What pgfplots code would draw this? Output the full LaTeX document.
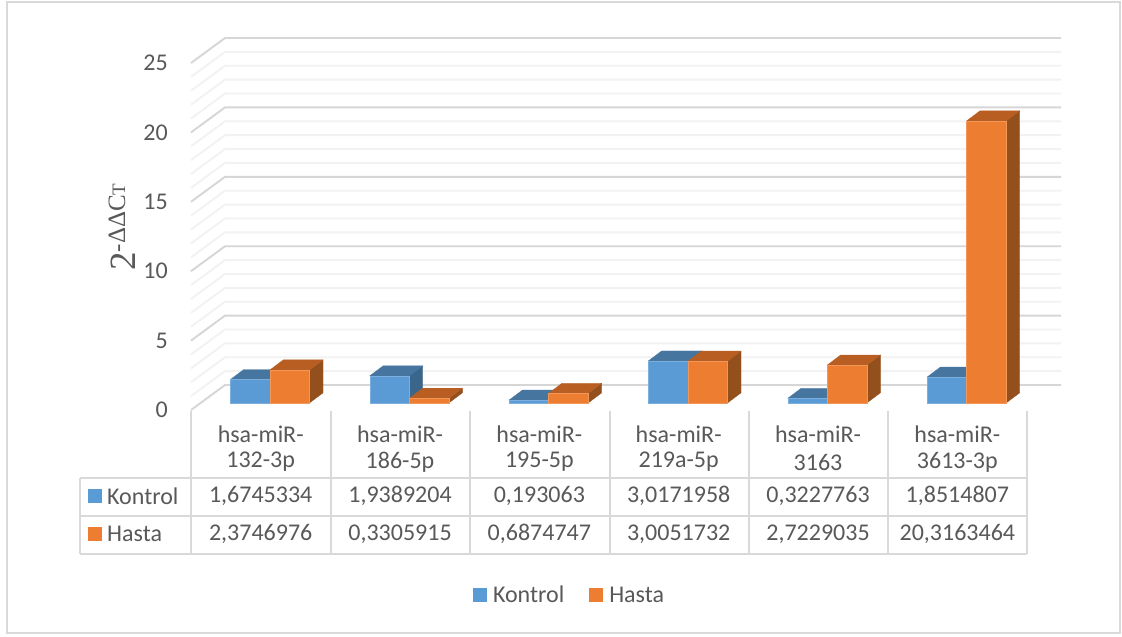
\documentclass[border=0pt]{standalone}
\usepackage{fontspec}
\setmainfont{Carlito}
\newfontfamily\titleserif{Liberation Serif}
\usepackage{pgfplots}
\usepackage{pgfplotstable}
\pgfplotsset{compat=1.18}

\definecolor{txt}{HTML}{595959}
\definecolor{rule}{HTML}{D9D9D9}
\definecolor{gridmajor}{HTML}{D6D6D6}
\definecolor{gridminor}{HTML}{F2F2F2}
\definecolor{kfront}{HTML}{5B9BD5}
\definecolor{ktop}{HTML}{4675A0}
\definecolor{kside}{HTML}{3B668C}
\definecolor{hfront}{HTML}{ED7D31}
\definecolor{htop}{HTML}{B85E22}
\definecolor{hside}{HTML}{94501C}

\pgfplotstableread{
pos kontrol hasta
0 1.6745334 2.3746976
1 1.9389204 0.3305915
2 0.193063 0.6874747
3 3.0171958 3.0051732
4 0.3227763 2.7229035
5 1.8514807 20.3163464
}\mirdata

% one gridline: across the side wall, then along the back wall
\newcommand{\wallline}[2]{%
  \pgfmathsetmacro{\yb}{#1+1.8}%
  \edef\temp{\noexpand\addplot[forget plot,#2,line width=1.9pt]
    coordinates {(0,#1) (0.244,\yb) (6.244,\yb)};}\temp}

% one box in oblique projection: side and top first, then the front face
% #1 left edge, #2 value, #3 front, #4 top, #5 side colour
\newcommand{\boxbar}[5]{%
  \pgfmathsetmacro{\xl}{#1}%
  \pgfmathsetmacro{\xr}{#1+0.2845}%
  \pgfmathsetmacro{\xrb}{\xr+0.0955}%
  \pgfmathsetmacro{\xlb}{\xl+0.0955}%
  \pgfmathsetmacro{\bot}{0.52}%
  \pgfmathsetmacro{\botb}{0.52+0.72}%
  \pgfmathsetmacro{\tp}{0.52+#2}%
  \pgfmathsetmacro{\tpb}{\tp+0.72}%
  \edef\temp{%
    \noexpand\addplot[forget plot,fill=#5,draw=#5,line width=0.3pt]
      coordinates {(\xr,\bot) (\xrb,\botb) (\xrb,\tpb) (\xr,\tp)} --cycle;
    \noexpand\addplot[forget plot,fill=#4,draw=#4,line width=0.3pt]
      coordinates {(\xl,\tp) (\xr,\tp) (\xrb,\tpb) (\xlb,\tpb)} --cycle;
    \noexpand\addplot[forget plot,fill=#3,draw=#3!80!white,line width=0.5pt]
      coordinates {(\xl,\bot) (\xr,\bot) (\xr,\tp) (\xl,\tp)} --cycle;
  }\temp}

\begin{document}
\begin{tikzpicture}[x=1pt,y=-1pt,
    cell/.style={font=\fontsize{24}{26}\selectfont,text=txt,inner sep=0pt,anchor=center}]
  % page area and chart frame
  \fill[white] (0,0) rectangle (1122,637);
  \draw[rule,line width=2pt] (7,1.5) rectangle (1120,633);

  \begin{axis}[
      at={(191pt,-410pt)},anchor=south west,
      scale only axis,width=836pt,height=347pt,
      xmin=0,xmax=6,ymin=0,ymax=25,
      clip=false,
      axis line style={draw=none},
      tick style={draw=none},
      xtick=\empty,
      ytick={0,5,10,15,20,25},
      yticklabel style={font=\fontsize{24}{26}\selectfont,text=txt,
        /pgf/number format/assume math mode=true,inner sep=0pt,xshift=-23pt},
      legend style={at={(axis cs:2.717,-13.35)},anchor=center,draw=none,fill=none,
        legend columns=2,font=\fontsize{24}{26}\selectfont,text=txt,
        /tikz/every odd column/.style={column sep=4pt},
        /tikz/every even column/.style={column sep=23pt},
        inner sep=0pt,outer sep=0pt},
      legend image code/.code={\fill[#1] (0pt,-7pt) rectangle (14pt,7pt);},
    ]
    \addlegendimage{fill=kfront,draw=none}
    \addlegendentry{Kontrol}
    \addlegendimage{fill=hfront,draw=none}
    \addlegendentry{Hasta}

    % minor gridlines first, major ones over them
    \pgfplotsforeachungrouped \v in {1,2,3,4,6,7,8,9,11,12,13,14,16,17,18,19,21,22,23,24}{%
      \wallline{\v}{gridminor}}
    \pgfplotsforeachungrouped \v in {0,5,10,15,20,25}{%
      \wallline{\v}{gridmajor}}

    % the bars, group by group, Kontrol behind Hasta
    \pgfplotsforeachungrouped \i in {0,...,5}{%
      \pgfplotstablegetelem{\i}{kontrol}\of\mirdata
      \let\kval\pgfplotsretval
      \pgfplotstablegetelem{\i}{hasta}\of\mirdata
      \let\hval\pgfplotsretval
      \pgfmathsetmacro{\xk}{\i+0.283}%
      \pgfmathsetmacro{\xh}{\i+0.5675}%
      \boxbar{\xk}{\kval}{kfront}{ktop}{kside}%
      \boxbar{\xh}{\hval}{hfront}{htop}{hside}%
    }
  \end{axis}

  % axis title
  \node[rotate=90,text=txt,inner sep=0pt,anchor=base west,font=\titleserif\fontsize{37}{40}\selectfont]
    at (135,271) {2\raisebox{10pt}{\fontsize{25}{28}\selectfont-ΔΔC{\fontsize{19}{22}\selectfont T}}};

  % data table rules
  \draw[rule,line width=2pt]
    (79.5,477.5) -- (1027,477.5)
    (79.5,515.7) -- (1027,515.7)
    (79.5,553.5) -- (1027,553.5)
    (79.5,477.5) -- (79.5,553.5);
  \foreach \x in {191,330.5,470,609.5,749,888,1027}
    \draw[rule,line width=2pt] (\x,411) -- (\x,553.5);

  % category names
  \foreach \c/\a/\b in {0/hsa-miR-/132-3p,1/hsa-miR-/186-5p,2/hsa-miR-/195-5p,
                        3/hsa-miR-/219a-5p,4/hsa-miR-/3163,5/hsa-miR-/3613-3p}{
    \pgfmathsetmacro{\cx}{260.7+139.33*\c}
    \node[cell] at (\cx,434) {\a};
    \node[cell] at (\cx,462) {\b};
  }

  % series keys and values in the table
  \fill[kfront] (88,489) rectangle (102,503);
  \fill[hfront] (88,527) rectangle (102,541);
  \node[cell,anchor=west] at (107,496) {Kontrol};
  \node[cell,anchor=west] at (107,534) {Hasta};
  \foreach \c/\a/\b in {0/{1,6745334}/{2,3746976},1/{1,9389204}/{0,3305915},
                        2/{0,193063}/{0,6874747},3/{3,0171958}/{3,0051732},
                        4/{0,3227763}/{2,7229035},5/{1,8514807}/{20,3163464}}{
    \pgfmathsetmacro{\cx}{260.7+139.33*\c}
    \node[cell] at (\cx,496) {\a};
    \node[cell] at (\cx,534) {\b};
  }
\end{tikzpicture}
\end{document}
